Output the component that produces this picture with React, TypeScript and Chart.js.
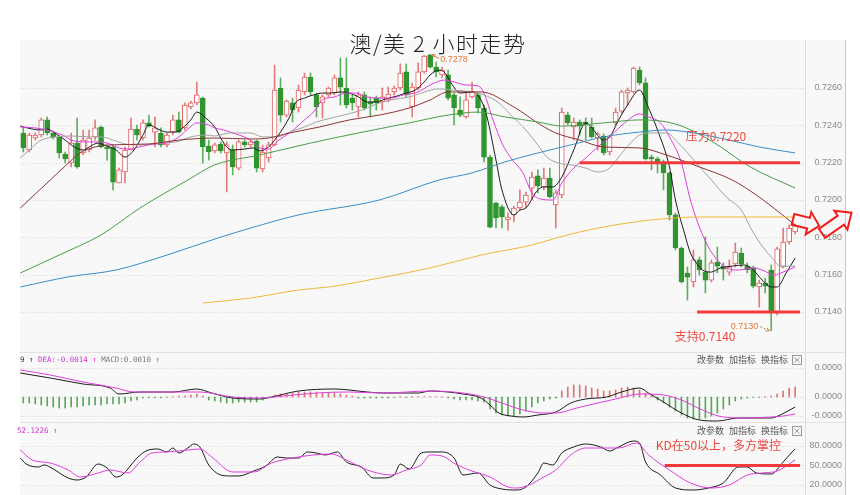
import React, { useEffect, useRef } from "react";
import { Chart, registerables } from "chart.js";

Chart.register(...registerables);

// ---------------- data ----------------
const candleOpen = [
  0.72359, 0.72268, 0.72332, 0.72348, 0.72429, 0.72359, 0.72338, 0.72246, 0.72198, 0.72305,
  0.72252, 0.72268, 0.72338, 0.72391, 0.72284, 0.72284, 0.72091, 0.7215, 0.72268, 0.7238,
  0.72332, 0.72413, 0.72364, 0.72359, 0.72295, 0.72364, 0.72429, 0.72386, 0.72498, 0.7252,
  0.72546, 0.72289, 0.72263, 0.723, 0.72252, 0.72268, 0.72171, 0.72311, 0.72295, 0.72316,
  0.72166, 0.72225, 0.72295, 0.726, 0.72455, 0.7252, 0.72493, 0.72579, 0.72659, 0.72563,
  0.7252, 0.72563, 0.72573, 0.72654, 0.726, 0.72546, 0.72498, 0.72563, 0.72525, 0.72546,
  0.72525, 0.72536, 0.72579, 0.726, 0.72686, 0.72498, 0.726, 0.72686, 0.72777, 0.72712,
  0.7267, 0.7267, 0.72563, 0.72482, 0.72445, 0.72552, 0.72563, 0.72493, 0.7223, 0.71984,
  0.71963, 0.71893, 0.7192, 0.71957, 0.71989, 0.72064, 0.72129, 0.7207, 0.72118, 0.71973,
  0.72027, 0.72455, 0.72391, 0.72418, 0.72418, 0.72391, 0.72332, 0.72343, 0.72257, 0.72413,
  0.72476, 0.72573, 0.72579, 0.72696, 0.72627, 0.7223, 0.7222, 0.72198, 0.72145, 0.7192,
  0.71743, 0.71609, 0.71561, 0.71679, 0.71614, 0.71571, 0.71668, 0.71646, 0.71614, 0.71657,
  0.71716, 0.71646, 0.71636, 0.71534, 0.71555, 0.71625, 0.71395, 0.71641, 0.71775, 0.71829,
];
const candleHigh = [
  0.72386, 0.72359, 0.72359, 0.72439, 0.72445, 0.72369, 0.7234, 0.72257, 0.72359, 0.72439,
  0.72375, 0.72375, 0.72429, 0.72396, 0.72295, 0.72295, 0.72171, 0.72284, 0.72439, 0.72402,
  0.72429, 0.72455, 0.72445, 0.72386, 0.72359, 0.72455, 0.72471, 0.7252, 0.7253, 0.72632,
  0.72552, 0.72321, 0.72305, 0.72311, 0.72311, 0.72295, 0.72321, 0.72321, 0.72321, 0.72321,
  0.72295, 0.72311, 0.72723, 0.72654, 0.72536, 0.72546, 0.72616, 0.7268, 0.7268, 0.72573,
  0.72563, 0.72605, 0.7267, 0.72761, 0.72761, 0.72563, 0.72579, 0.72579, 0.72552, 0.72557,
  0.726, 0.72605, 0.72611, 0.72729, 0.72729, 0.72627, 0.72734, 0.72775, 0.7278, 0.72739,
  0.72712, 0.72696, 0.72573, 0.72552, 0.72573, 0.72632, 0.72573, 0.72509, 0.72241, 0.71989,
  0.71973, 0.7193, 0.71968, 0.72054, 0.72043, 0.7215, 0.72161, 0.72171, 0.72171, 0.72054,
  0.72493, 0.72471, 0.72439, 0.72429, 0.72439, 0.72439, 0.72364, 0.72354, 0.72348, 0.72493,
  0.72589, 0.726, 0.72712, 0.72712, 0.72654, 0.72241, 0.7223, 0.72214, 0.7215, 0.7193,
  0.71748, 0.71641, 0.71732, 0.71695, 0.71802, 0.71679, 0.71748, 0.71663, 0.71679, 0.7177,
  0.71743, 0.71663, 0.71646, 0.71571, 0.71582, 0.71652, 0.71748, 0.7185, 0.71866, 0.71871,
];
const candleLow = [
  0.72257, 0.72257, 0.72321, 0.72338, 0.72348, 0.72327, 0.72225, 0.72198, 0.72177, 0.72171,
  0.72241, 0.72257, 0.72321, 0.72279, 0.72214, 0.72054, 0.72091, 0.72091, 0.72268, 0.72321,
  0.72321, 0.72391, 0.72284, 0.72284, 0.72284, 0.72348, 0.72359, 0.72375, 0.72488, 0.72509,
  0.72198, 0.72214, 0.72252, 0.72252, 0.72043, 0.72134, 0.72161, 0.72284, 0.72284, 0.7215,
  0.7215, 0.72204, 0.7229, 0.72418, 0.72445, 0.72418, 0.72471, 0.72563, 0.72563, 0.72445,
  0.72439, 0.72552, 0.72563, 0.72509, 0.72493, 0.72482, 0.72445, 0.72482, 0.72445, 0.72482,
  0.72482, 0.72525, 0.72563, 0.72589, 0.72552, 0.72445, 0.72589, 0.7268, 0.72707, 0.72659,
  0.72654, 0.72536, 0.72402, 0.72445, 0.72439, 0.72546, 0.72466, 0.72204, 0.7185, 0.7185,
  0.7185, 0.71839, 0.71882, 0.71946, 0.71957, 0.72, 0.72038, 0.72054, 0.72011, 0.7185,
  0.72011, 0.72402, 0.72321, 0.72348, 0.72321, 0.72332, 0.72268, 0.72241, 0.72241, 0.72402,
  0.72466, 0.72509, 0.72573, 0.72616, 0.72214, 0.72161, 0.72145, 0.72054, 0.71893, 0.71732,
  0.71555, 0.71464, 0.71534, 0.71598, 0.71502, 0.71561, 0.71609, 0.71571, 0.71598, 0.71641,
  0.71641, 0.71609, 0.71529, 0.71426, 0.71502, 0.713, 0.71384, 0.71636, 0.71764, 0.71818,
];
const candleClose = [
  0.72279, 0.72348, 0.72348, 0.72429, 0.72359, 0.72338, 0.72252, 0.7222, 0.72305, 0.72177,
  0.72321, 0.72332, 0.72386, 0.72284, 0.72273, 0.72096, 0.72161, 0.72268, 0.7238, 0.72348,
  0.72413, 0.72396, 0.72386, 0.72295, 0.72348, 0.72429, 0.72364, 0.72509, 0.7252, 0.72563,
  0.72284, 0.72257, 0.72295, 0.72263, 0.72295, 0.72177, 0.72311, 0.72295, 0.72311, 0.72171,
  0.72257, 0.72295, 0.72589, 0.72455, 0.7253, 0.72482, 0.72589, 0.72659, 0.72579, 0.72498,
  0.72552, 0.726, 0.72654, 0.72605, 0.72509, 0.7252, 0.72563, 0.72493, 0.72514, 0.7252,
  0.72552, 0.72568, 0.726, 0.7268, 0.72563, 0.72605, 0.72686, 0.72771, 0.72712, 0.72686,
  0.72696, 0.72546, 0.72493, 0.72455, 0.72536, 0.72579, 0.72493, 0.7223, 0.71855, 0.71904,
  0.71909, 0.71909, 0.71957, 0.71989, 0.72027, 0.72123, 0.72075, 0.72118, 0.72016, 0.72038,
  0.72471, 0.72413, 0.72418, 0.72396, 0.72402, 0.72338, 0.72354, 0.72252, 0.72338, 0.72471,
  0.72579, 0.72589, 0.72707, 0.72627, 0.7222, 0.7222, 0.72204, 0.72145, 0.7192, 0.71743,
  0.71561, 0.71587, 0.71679, 0.71625, 0.71571, 0.71663, 0.71646, 0.7163, 0.71641, 0.71721,
  0.71657, 0.71625, 0.71539, 0.71555, 0.71539, 0.714, 0.71738, 0.71775, 0.7185, 0.71861,
];

// moving averages as [candle index, price]
const ma5 = [
  [-0.5, 0.72396], [1.5, 0.7238], [3, 0.72375], [4, 0.7238], [5.5, 0.72354], [7, 0.72321], [8.5, 0.72284],
  [10, 0.72268], [11, 0.72284], [12.5, 0.72305], [13.5, 0.72295], [15.5, 0.72268], [17, 0.7223], [18.5, 0.72268],
  [20, 0.72348], [21, 0.72402], [22.5, 0.7238], [24, 0.72364], [25.5, 0.72364], [27, 0.72396], [28, 0.72429],
  [29, 0.72471], [30.5, 0.72439], [32, 0.72391], [33, 0.72332], [34, 0.72284], [35, 0.72268], [37, 0.72273],
  [38.5, 0.72279], [39.5, 0.72263], [41, 0.72284], [42, 0.72321], [43, 0.72364], [44.5, 0.72445], [45.5, 0.7252],
  [47, 0.72546], [48.5, 0.72563], [50, 0.72573], [51.5, 0.72573], [53, 0.72579], [54.5, 0.72573], [56, 0.72552],
  [57.5, 0.72525], [59, 0.72525], [60.5, 0.72541], [62.5, 0.72557], [64, 0.72573], [65.5, 0.72589], [67, 0.72632],
  [68, 0.7267], [69.5, 0.72696], [70.5, 0.7268], [71.5, 0.72627], [73, 0.72573], [75, 0.72579], [76.5, 0.72536],
  [77.5, 0.72445], [79, 0.72214], [80, 0.72054], [82, 0.7192], [83, 0.71946], [84, 0.71957], [86, 0.72054],
  [87, 0.7207], [88.5, 0.7207], [90, 0.72123], [92, 0.72268], [94, 0.72413], [95, 0.72386], [97, 0.72321],
  [98, 0.72337], [99.5, 0.72429], [101, 0.72509], [103, 0.72589], [104.5, 0.72493], [106, 0.72375], [108, 0.72177],
  [109, 0.72], [110.5, 0.71823], [111.5, 0.71716], [112.5, 0.71663], [113.5, 0.71625], [115, 0.71614],
  [116.5, 0.71636], [118.5, 0.71646], [120.5, 0.71652], [122, 0.71625], [123.5, 0.71571], [125, 0.71534],
  [126, 0.71534], [127.5, 0.71609], [129, 0.71689],
];
const ma10 = [
  [-0.5, 0.72391], [2, 0.72386], [4, 0.72375], [6.5, 0.72348], [8.5, 0.72316], [10.5, 0.72311], [12, 0.72311],
  [14, 0.72305], [16, 0.72279], [17.5, 0.72273], [20, 0.72289], [22, 0.723], [24, 0.72305], [26, 0.72338],
  [27.5, 0.7238], [29, 0.72413], [31, 0.72402], [32, 0.72386], [33.5, 0.72375], [35.5, 0.72354], [38, 0.72321],
  [39.5, 0.72279], [41, 0.72273], [42.5, 0.72316], [44.5, 0.72359], [47, 0.72429], [48.5, 0.72471], [50, 0.72536],
  [52, 0.72552], [54, 0.72573], [55.5, 0.72573], [57.5, 0.72552], [59, 0.72546], [61.5, 0.72546], [63.5, 0.72563],
  [66, 0.72579], [68, 0.72616], [70.5, 0.72643], [72, 0.72632], [74, 0.72616], [76, 0.72611], [77, 0.72573],
  [78.5, 0.72429], [80, 0.72305], [81.5, 0.72225], [83.5, 0.72145], [85, 0.72038], [86.5, 0.72005], [88.5, 0.72],
  [90, 0.72091], [92, 0.72171], [94, 0.72225], [96, 0.72284], [98, 0.72338], [100.5, 0.72413], [103, 0.72461],
  [104.5, 0.72445], [106.5, 0.72413], [108, 0.72338], [110, 0.72198], [111.5, 0.72], [113, 0.71855],
  [114.5, 0.71748], [116, 0.71679], [117.5, 0.71636], [119.5, 0.71625], [122, 0.71636], [123.5, 0.71625],
  [125.5, 0.71598], [127, 0.71614], [129, 0.71641],
];
const ma20 = [
  [-0.5, 0.72225], [1, 0.72268], [3, 0.72321], [5.5, 0.72338], [8, 0.72343], [11, 0.72338], [13, 0.72338],
  [15.5, 0.72316], [17, 0.723], [20, 0.72295], [22.5, 0.72305], [25.5, 0.72311], [28, 0.72338], [30.5, 0.72348],
  [32, 0.72343], [34.5, 0.72359], [38, 0.72359], [40, 0.72338], [42.5, 0.72338], [44.5, 0.72364], [47, 0.72391],
  [49, 0.72418], [51.5, 0.72439], [53.5, 0.72455], [55.5, 0.72471], [57.5, 0.72493], [59, 0.72514], [61.5, 0.72536],
  [64.5, 0.72552], [69.5, 0.72595], [72, 0.72589], [75, 0.72579], [77, 0.72563], [79.5, 0.7252], [81.5, 0.72455],
  [84, 0.72375], [86, 0.72295], [87.5, 0.7223], [89.5, 0.72198], [91.5, 0.72188], [94, 0.72171], [96, 0.7215],
  [98, 0.72171], [99.5, 0.7223], [101.5, 0.72305], [103, 0.72348], [105, 0.72359], [107.5, 0.72359],
  [109.5, 0.72305], [112.5, 0.72198], [115, 0.72107], [117.5, 0.72016], [120, 0.71946], [121.5, 0.71855],
  [123, 0.71775], [125, 0.71695], [126.5, 0.71646], [129, 0.71646],
];
const ma30 = [
  [-0.5, 0.71957], [2, 0.72032], [4.5, 0.72107], [7, 0.72182], [9.5, 0.72252], [12, 0.72284], [14.5, 0.72295],
  [21, 0.723], [26, 0.72321], [32, 0.72332], [38, 0.72327], [41, 0.72332], [44.5, 0.72359], [49.5, 0.72391],
  [54.5, 0.72429], [59.5, 0.72455], [64.5, 0.72493], [68, 0.72536], [71, 0.72579], [76.5, 0.72579], [82, 0.72498],
  [86.5, 0.72402], [89, 0.72359], [93, 0.72321], [97, 0.72284], [103, 0.72279], [107.5, 0.72241], [113, 0.72177],
  [118.5, 0.72107], [122.5, 0.72027], [126.5, 0.7193], [129, 0.71866],
];
const ma60 = [
  [-0.5, 0.71609], [6, 0.71705], [13, 0.71813], [19.5, 0.71957], [27.5, 0.72107], [32, 0.72188], [39.5, 0.72241],
  [48, 0.72305], [56, 0.72359], [64.5, 0.72413], [71, 0.72455], [76, 0.72471], [80.5, 0.72445], [86, 0.72418],
  [90, 0.72396], [97, 0.72413], [103, 0.72429], [109, 0.72407], [115, 0.72316], [121.5, 0.72177], [129, 0.72064],
];
const ma120 = [
  [-0.5, 0.71534], [7.5, 0.71588], [15.5, 0.71625], [24, 0.71705], [32.5, 0.71796], [38, 0.7185], [46, 0.7192],
  [59.5, 0.72], [69.5, 0.72107], [75, 0.72145], [80.5, 0.72204], [86, 0.72252], [91.5, 0.72295], [97, 0.72338],
  [103, 0.72364], [107.5, 0.72375], [112, 0.72359], [118, 0.72321], [123, 0.72284], [129, 0.72252],
];
const ma250 = [
  [30, 0.71448], [38, 0.71475], [46, 0.71518], [51, 0.71534], [59.5, 0.71582], [68, 0.71636], [76.5, 0.71705],
  [85, 0.71759], [89, 0.71796], [93, 0.71829], [101, 0.71877], [106.5, 0.71898], [113, 0.71909], [129, 0.71909],
];

// MACD
const macdDif = [
  [-0.5, 0.00024], [4.5, 0.00019], [10, 0.00013], [14.5, 0.00009], [16, 0.00003], [19.5, 0.00005], [25, 0.00005],
  [29, 0.00008], [31.5, 0.00004], [35, -0.00001], [39.5, -0.00002], [41.5, 0], [46, 0.00006], [52, 0.00008],
  [57.5, 0.00005], [60, 0.00004], [66, 0.00004], [68, 0.00006], [71, 0.00005], [73.5, 0.00003], [76.5, -0.00001],
  [78, -0.00008], [79.5, -0.00016], [81.5, -0.00019], [83.5, -0.0002], [86, -0.00018], [89, -0.00015],
  [91.5, -0.00006], [94, -0.00002], [97.5, 0], [100, 0.00005], [103, 0.00009], [104.5, 0.00004], [107, -0.00005],
  [110, -0.00016], [113, -0.00023], [116, -0.00024], [119.5, -0.00021], [122.5, -0.00021], [125, -0.00021],
  [126.5, -0.00018], [129, -0.0001],
];
const macdDea = [
  [-0.5, 0.00027], [4.5, 0.00022], [10, 0.00015], [15.5, 0.00009], [18.5, 0.00005], [24, 0.00005], [29.5, 0.00005],
  [35, 0], [39.5, -0.00001], [43.5, 0.00001], [49, 0.00004], [54.5, 0.00005], [60, 0.00004], [68, 0.00006],
  [73.5, 0.00004], [77, 0], [80, -0.00006], [83.5, -0.00013], [87, -0.00016], [89, -0.00016], [92.5, -0.00011],
  [96, -0.00006], [99, -0.00002], [103, 0.00003], [107, 0.00002], [110, -0.00003], [113.5, -0.00013],
  [117, -0.0002], [121, -0.00021], [125, -0.0002], [127, -0.00019], [129, -0.00017],
];
const macdHist = [
  -0.00006, -0.00006, -0.00007, -0.00008, -0.00009, -0.0001, -0.00011, -0.00011, -0.0001, -0.0001,
  -0.00009, -0.00008, -0.00008, -0.00008, -0.00007, -0.00007, -0.00007, -0.00006, -0.00004, -0.00003,
  -0.00001, -0.00001, -0.00001, -0.00001, -0.000005, 0.000005, 0.00001, 0.00001, 0.00002, 0.00003,
  0.00001, -0.00003, -0.00004, -0.00005, -0.00006, -0.00006, -0.00005, -0.00005, -0.00005, -0.00005,
  -0.00003, -0.00001, 0.00002, 0.00003, 0.00003, 0.00004, 0.00005, 0.00005, 0.00005, 0.00005,
  0.00004, 0.00004, 0.00004, 0.00003, 0.00002, 0.00001, -0.00001, -0.00001, -0.00001, -0.00001,
  -0.00001, -0.00001, -0.000005, 0.000005, -0.000005, 0.000005, 0.000005, 0.000005, 0.000005, 0.000005,
  0.000005, -0.00001, -0.00002, -0.00003, -0.00003, -0.00003, -0.00004, -0.00005, -0.00012, -0.00016,
  -0.00018, -0.00019, -0.00019, -0.00017, -0.00014, -0.0001, -0.00006, -0.00004, -0.00002, -0.00001,
  0.00006, 0.0001, 0.00012, 0.00012, 0.00011, 0.00009, 0.00008, 0.00006, 0.00006, 0.00007,
  0.00009, 0.0001, 0.00009, 0.00007, 0.00004, 0.00002, -0.00003, -0.00006, -0.0001, -0.00014,
  -0.00018, -0.00021, -0.00022, -0.00022, -0.00021, -0.00019, -0.00016, -0.00012, -0.00008, -0.00004,
  -0.00002, -0.00001, -0.000005, -0.000005, 0.000005, 0.00001, 0.00003, 0.00006, 0.00009, 0.0001,
];

// KD
const kdK = [
  [-0.5, 61.5], [0.5, 52.3], [2.5, 47.7], [3.5, 50.8], [5, 44.6], [7.5, 30.8], [9, 27.7], [10.5, 32.3], [12.5, 52.3],
  [14, 46.2], [15.5, 32.3], [16.5, 35.4], [19, 61.5], [20.5, 72.3], [22.5, 75.4], [24, 70.8], [25, 76.9], [26, 69.2],
  [27.5, 76.9], [28.5, 83.1], [29.5, 78.5], [31, 50.8], [33, 35.4], [34.5, 33.9], [36, 33.9], [38.5, 41.5],
  [40.5, 49.2], [42.5, 63.1], [44, 61.5], [46, 61.5], [47.5, 70.8], [49, 69.2], [50.5, 66.2], [52.5, 70.8],
  [54, 55.4], [56.5, 47.7], [58.5, 30.8], [60, 30.8], [62, 35.4], [63, 52.3], [64.5, 44.6], [66.5, 69.2],
  [68, 70.8], [70, 70.8], [72, 61.5], [73.5, 35.4], [76, 38.5], [78, 20], [80, 13.8], [82.5, 12.3], [84, 16.9],
  [86, 38.5], [87, 53.8], [88.5, 50.8], [90, 69.2], [92, 78.5], [94, 83.1], [96.5, 78.5], [98, 72.3], [99.5, 78.5],
  [102, 87.7], [103, 84.6], [104, 55.4], [106.5, 35.4], [109, 15.4], [112, 12.3], [114.5, 15.4], [117, 23.1],
  [119.5, 47.7], [121, 47.7], [122.5, 38.5], [125, 36.9], [127, 55.4], [128.5, 70.8], [129, 75.4],
];
const kdD = [
  [-0.5, 73.8], [1.5, 58.5], [4.5, 53.8], [7.5, 43.1], [9.5, 32.3], [12.5, 38.5], [14.5, 43.1], [17.5, 38.5],
  [19.5, 55.4], [21.5, 69.2], [24, 70.8], [27.5, 73.8], [29.5, 75.4], [31.5, 63.1], [35, 40], [38.5, 40],
  [41.5, 53.8], [45, 61.5], [48.5, 66.2], [51.5, 67.7], [54, 58.5], [57.5, 43.1], [61.5, 35.4], [64, 43.1],
  [66.5, 50.8], [68, 66.2], [70, 64.6], [72.5, 50.8], [75, 41.5], [78, 32.3], [81, 16.9], [82.5, 15.4], [84.5, 20],
  [87, 32.3], [89, 43.1], [91.5, 66.2], [94, 76.9], [97, 76.9], [99.5, 76.9], [102.5, 84.6], [104.5, 66.2],
  [108, 43.1], [111.5, 23.1], [115, 15.4], [118, 20], [121, 35.4], [123.5, 38.5], [126, 41.5], [129, 58.5],
];

// ticks & texts
const priceTicks = [0.714, 0.716, 0.718, 0.72, 0.722, 0.724, 0.726];
const macdTicks = [0.00029, 0, -0.00019];
const macdTickLabels = ["0.0000", "0.0000", "-0.0000"];
const kdTicks = [80, 50, 20];
const kdTickLabels = ["80.0000", "50.0000", "20.0000"];

const chartTitle = "澳/美 2 小时走势";
const pressureLevel = 0.722;
const pressureText = "压力0.7220";
const supportLevel = 0.714;
const supportText = "支持0.7140";
const kdLevel = 50;
const kdText = "KD在50以上，多方掌控";
const macdHeader = [
  ["9 ↑ ", "#333333"],
  ["DEA:-0.0014 ↑ ", "#d22cd2"],
  ["MACD:0.0010 ↑", "#777777"],
];
const kdHeader = "52.1226 ↑";
const panelTools = ["改参数", "加指标", "换指标"];

// ---------------- layout / style ----------------
const X_MIN = -0.55;
const X_MAX = 130.65;
const PLOT_LEFT = 20;
const AXIS_EDGE = 845;
const PANEL_BG = "#f8f8f8";
const UP = "#e06262";
const UP_WICK = "#e57a7a";
const DOWN = "#2f952f";
const DOWN_WICK = "#5fae5f";
const ANNOT = "#f23a3a";
const ANNOT_TEXT = "#ea4a40";
const NOTE = "#e07b39";

const idx = candleOpen.map((_, i) => i);
const pts = (a: number[][]) => a.map(([x, y]) => ({ x, y }));

function lineDs(data: number[][], color: string, width = 1) {
  return {
    type: "line",
    data: pts(data),
    borderColor: color,
    borderWidth: width,
    pointRadius: 0,
    fill: false,
    cubicInterpolationMode: "monotone",
    order: 1,
  };
}

function baseOptions(yMin: number, yMax: number, padTop: number, padBottom: number) {
  return {
    responsive: false,
    animation: false,
    devicePixelRatio: 1,
    events: [],
    layout: { padding: { left: PLOT_LEFT, right: 55, top: padTop, bottom: padBottom } },
    plugins: { legend: { display: false }, tooltip: { enabled: false }, title: { display: false } },
    scales: {
      x: { type: "linear", min: X_MIN, max: X_MAX, display: false, offset: false },
      y: { type: "linear", min: yMin, max: yMax, display: false },
    },
  };
}

function fillPanel(chart: any, bgTop: number) {
  const { ctx, width, height } = chart;
  ctx.save();
  ctx.fillStyle = "#ffffff";
  ctx.fillRect(0, 0, width, height);
  ctx.fillStyle = PANEL_BG;
  ctx.fillRect(PLOT_LEFT, bgTop, AXIS_EDGE - PLOT_LEFT, height - bgTop);
  if (bgTop === 0) {
    ctx.strokeStyle = "#e2e2e2";
    ctx.lineWidth = 1;
    ctx.beginPath();
    ctx.moveTo(PLOT_LEFT, 0.5);
    ctx.lineTo(AXIS_EDGE, 0.5);
    ctx.stroke();
  }
  ctx.restore();
}

function drawGrid(chart: any, ticks: number[]) {
  const { ctx, chartArea, scales } = chart;
  ctx.save();
  ctx.strokeStyle = "#d4d4d4";
  ctx.lineWidth = 1;
  ctx.setLineDash([1, 2]);
  ticks.forEach((t) => {
    const y = Math.round(scales.y.getPixelForValue(t)) + 0.5;
    ctx.beginPath();
    ctx.moveTo(chartArea.left, y);
    ctx.lineTo(chartArea.right, y);
    ctx.stroke();
  });
  ctx.restore();
}

function drawAxis(chart: any, ticks: number[], labels: string[], top: number) {
  const { ctx, height, chartArea, scales } = chart;
  ctx.save();
  ctx.lineWidth = 1;
  ctx.strokeStyle = "#dcdcdc";
  ctx.beginPath();
  ctx.moveTo(chartArea.right + 0.5, top);
  ctx.lineTo(chartArea.right + 0.5, height);
  ctx.stroke();
  ctx.strokeStyle = "#c6c6c6";
  ctx.beginPath();
  ctx.moveTo(AXIS_EDGE + 0.5, top);
  ctx.lineTo(AXIS_EDGE + 0.5, height);
  ctx.stroke();
  ctx.fillStyle = "#8a8a8a";
  ctx.font = '9px "Liberation Sans"';
  ctx.textAlign = "right";
  ctx.textBaseline = "middle";
  ticks.forEach((t, k) => ctx.fillText(labels[k], AXIS_EDGE - 3, scales.y.getPixelForValue(t)));
  ctx.restore();
}

function drawTools(chart: any, yMid: number) {
  const { ctx, chartArea } = chart;
  ctx.save();
  ctx.font = '9px "Noto Sans CJK SC"';
  ctx.fillStyle = "#555555";
  ctx.textAlign = "left";
  ctx.textBaseline = "middle";
  let x = chartArea.right - 108;
  panelTools.forEach((t) => {
    ctx.fillText(t, x, yMid);
    x += 32;
  });
  const bx = chartArea.right - 12.5;
  const by = Math.round(yMid - 5) + 0.5;
  ctx.strokeStyle = "#9a9a9a";
  ctx.lineWidth = 1;
  ctx.strokeRect(bx, by, 9, 9);
  ctx.beginPath();
  ctx.moveTo(bx + 2, by + 2);
  ctx.lineTo(bx + 7, by + 7);
  ctx.moveTo(bx + 7, by + 2);
  ctx.lineTo(bx + 2, by + 7);
  ctx.stroke();
  ctx.restore();
}

function blockArrow(ctx: any, x0: number, y0: number, ang: number, len: number, s: number, h: number, hl: number) {
  const local = [
    [0, -s], [len - hl, -s], [len - hl, -h], [len, 0], [len - hl, h], [len - hl, s], [0, s],
  ];
  const c = Math.cos(ang);
  const sn = Math.sin(ang);
  ctx.beginPath();
  local.forEach(([u, v], k) => {
    const px = x0 + u * c - v * sn;
    const py = y0 + u * sn + v * c;
    if (k === 0) ctx.moveTo(px, py);
    else ctx.lineTo(px, py);
  });
  ctx.closePath();
  ctx.stroke();
}

function smallArrow(ctx: any, x1: number, y1: number, x2: number, y2: number, dashed: boolean) {
  ctx.save();
  if (dashed) ctx.setLineDash([2, 2]);
  ctx.beginPath();
  ctx.moveTo(x1, y1);
  ctx.lineTo(x2, y2);
  ctx.stroke();
  ctx.setLineDash([]);
  const a = Math.atan2(y2 - y1, x2 - x1);
  ctx.beginPath();
  ctx.moveTo(x2, y2);
  ctx.lineTo(x2 - 3.5 * Math.cos(a - 0.5), y2 - 3.5 * Math.sin(a - 0.5));
  ctx.moveTo(x2, y2);
  ctx.lineTo(x2 - 3.5 * Math.cos(a + 0.5), y2 - 3.5 * Math.sin(a + 0.5));
  ctx.stroke();
  ctx.restore();
}

// ---------------- configs ----------------
function mainConfig() {
  const opts: any = baseOptions(0.711911, 0.728571, 40, 1);
  const hiVal = Math.max(...candleHigh);
  const hiIdx = candleHigh.indexOf(hiVal);
  const loVal = Math.min(...candleLow);
  const loIdx = candleLow.indexOf(loVal);
  const plugin = {
    id: "mainDecor",
    beforeDraw: (chart: any) => fillPanel(chart, 40),
    beforeDatasetsDraw: (chart: any) => drawGrid(chart, priceTicks),
    afterDraw: (chart: any) => {
      const { ctx, chartArea } = chart;
      const xs = chart.scales.x;
      const ys = chart.scales.y;
      drawAxis(chart, priceTicks, priceTicks.map((t) => t.toFixed(4)), 40);
      ctx.save();
      // title
      ctx.fillStyle = "#222222";
      ctx.font = '300 22px "Noto Sans CJK SC"';
      ctx.textAlign = "center";
      ctx.textBaseline = "middle";
      try {
        (ctx as any).letterSpacing = "1.5px";
      } catch (e) {}
      ctx.fillText(chartTitle, 438, 44);
      try {
        (ctx as any).letterSpacing = "0px";
      } catch (e) {}
      // high / low notes
      ctx.strokeStyle = NOTE;
      ctx.fillStyle = NOTE;
      ctx.lineWidth = 1;
      ctx.font = '9px "Liberation Sans"';
      const hx = xs.getPixelForValue(hiIdx);
      const hy = ys.getPixelForValue(hiVal);
      smallArrow(ctx, hx + 9, hy + 4, hx + 2, hy + 0.5, false);
      ctx.textAlign = "left";
      ctx.fillText(hiVal.toFixed(4), hx + 10, hy + 5);
      const lx = xs.getPixelForValue(loIdx);
      const ly = ys.getPixelForValue(loVal);
      ctx.textAlign = "right";
      ctx.fillText(loVal.toFixed(4), lx - 13, ly - 4.5);
      smallArrow(ctx, lx - 11, ly - 4, lx - 2, ly, true);
      // support / pressure
      ctx.strokeStyle = ANNOT;
      ctx.lineWidth = 3;
      ctx.beginPath();
      ctx.moveTo(xs.getPixelForValue(93), ys.getPixelForValue(pressureLevel));
      ctx.lineTo(chartArea.right - 5, ys.getPixelForValue(pressureLevel));
      ctx.moveTo(xs.getPixelForValue(112.6), ys.getPixelForValue(supportLevel));
      ctx.lineTo(chartArea.right - 5, ys.getPixelForValue(supportLevel));
      ctx.stroke();
      ctx.fillStyle = ANNOT_TEXT;
      ctx.font = '12px "Noto Sans CJK SC"';
      ctx.textAlign = "left";
      ctx.textBaseline = "middle";
      ctx.fillText(pressureText, xs.getPixelForValue(110.7), ys.getPixelForValue(0.72338));
      ctx.fillText(supportText, xs.getPixelForValue(108.9), ys.getPixelForValue(0.71271));
      // outline arrows
      ctx.strokeStyle = "#f01e1e";
      ctx.lineWidth = 2;
      ctx.lineJoin = "miter";
      const ay = ys.getPixelForValue(0.71875);
      blockArrow(ctx, chartArea.right - 12, ay - 4, (14 * Math.PI) / 180, 27, 5.5, 11.5, 11);
      blockArrow(ctx, chartArea.right + 17, ay + 10, (-35 * Math.PI) / 180, 36, 5.5, 11.5, 13);
      ctx.restore();
    },
  };
  return {
    type: "bar",
    data: {
      datasets: [
        {
          type: "bar",
          data: idx.map((i) => ({ x: i, y: [candleLow[i], candleHigh[i]] })),
          backgroundColor: idx.map((i) => (candleClose[i] >= candleOpen[i] ? UP_WICK : DOWN_WICK)),
          barThickness: 1,
          grouped: false,
          order: 3,
        },
        {
          type: "bar",
          data: idx.map((i) => ({ x: i, y: [candleOpen[i], candleClose[i]] })),
          backgroundColor: idx.map((i) => (candleClose[i] >= candleOpen[i] ? "#ffffff" : DOWN)),
          borderColor: idx.map((i) => (candleClose[i] >= candleOpen[i] ? UP : DOWN)),
          borderWidth: 1,
          borderSkipped: false,
          barThickness: 5,
          minBarLength: 1,
          grouped: false,
          order: 2,
        },
        lineDs(ma250, "#f1b73c"),
        lineDs(ma120, "#3b8fc7"),
        lineDs(ma60, "#4a9d4a"),
        lineDs(ma30, "#8e3434"),
        lineDs(ma20, "#a3a3a3"),
        lineDs(ma10, "#dd3fdd"),
        lineDs(ma5, "#1c1c1c"),
      ],
    },
    options: opts,
    plugins: [plugin],
  };
}

function macdConfig() {
  const opts: any = baseOptions(-0.00025, 0.00045, 0, 0);
  const plugin = {
    id: "macdDecor",
    beforeDraw: (chart: any) => fillPanel(chart, 0),
    beforeDatasetsDraw: (chart: any) => drawGrid(chart, macdTicks),
    afterDraw: (chart: any) => {
      const { ctx } = chart;
      drawAxis(chart, macdTicks, macdTickLabels, 0);
      ctx.save();
      ctx.font = '7.5px "DejaVu Sans Mono"';
      ctx.textAlign = "left";
      ctx.textBaseline = "middle";
      let x = PLOT_LEFT;
      macdHeader.forEach(([t, c]) => {
        ctx.fillStyle = c;
        ctx.fillText(t, x, 8);
        x += ctx.measureText(t).width;
      });
      ctx.restore();
      drawTools(chart, 8);
    },
  };
  return {
    type: "bar",
    data: {
      datasets: [
        {
          type: "bar",
          data: idx.map((i) => ({ x: i, y: macdHist[i] })),
          backgroundColor: idx.map((i) => (macdHist[i] >= 0 ? "#e07272" : "#5aa85a")),
          barThickness: 1,
          grouped: false,
          order: 3,
        },
        lineDs(macdDea, "#dd3fdd"),
        lineDs(macdDif, "#1c1c1c"),
      ],
    },
    options: opts,
    plugins: [plugin],
  };
}

function kdConfig() {
  const opts: any = baseOptions(10.77, 115.38, 1, 4);
  const plugin = {
    id: "kdDecor",
    beforeDraw: (chart: any) => fillPanel(chart, 0),
    beforeDatasetsDraw: (chart: any) => drawGrid(chart, kdTicks),
    afterDraw: (chart: any) => {
      const { ctx, chartArea } = chart;
      const xs = chart.scales.x;
      const ys = chart.scales.y;
      drawAxis(chart, kdTicks, kdTickLabels, 0);
      ctx.save();
      ctx.font = '7.5px "DejaVu Sans Mono"';
      ctx.fillStyle = "#d22cd2";
      ctx.textAlign = "left";
      ctx.textBaseline = "middle";
      ctx.fillText(kdHeader, 17, 9);
      ctx.strokeStyle = ANNOT;
      ctx.lineWidth = 3;
      ctx.beginPath();
      ctx.moveTo(xs.getPixelForValue(107.2), ys.getPixelForValue(kdLevel));
      ctx.lineTo(chartArea.right - 5, ys.getPixelForValue(kdLevel));
      ctx.stroke();
      ctx.fillStyle = ANNOT_TEXT;
      ctx.font = '12px "Noto Sans CJK SC"';
      ctx.fillText(kdText, xs.getPixelForValue(105.7), ys.getPixelForValue(81.5));
      ctx.restore();
      drawTools(chart, 9);
    },
  };
  return {
    type: "line",
    data: {
      datasets: [lineDs(kdD, "#dd3fdd"), lineDs(kdK, "#1c1c1c")],
    },
    options: opts,
    plugins: [plugin],
  };
}

export default function App() {
  const mainRef = useRef<HTMLCanvasElement>(null);
  const macdRef = useRef<HTMLCanvasElement>(null);
  const kdRef = useRef<HTMLCanvasElement>(null);

  useEffect(() => {
    const charts = [
      new Chart(mainRef.current as any, mainConfig() as any),
      new Chart(macdRef.current as any, macdConfig() as any),
      new Chart(kdRef.current as any, kdConfig() as any),
    ];
    return () => charts.forEach((c) => c.destroy());
  }, []);

  return (
    <div style={{ position: "fixed", left: 0, top: 0, width: 860, height: 495, background: "#ffffff", overflow: "hidden" }}>
      <canvas ref={mainRef} width={860} height={352} style={{ position: "absolute", left: 0, top: 0 }} />
      <canvas ref={macdRef} width={860} height={70} style={{ position: "absolute", left: 0, top: 352 }} />
      <canvas ref={kdRef} width={860} height={73} style={{ position: "absolute", left: 0, top: 422 }} />
    </div>
  );
}
